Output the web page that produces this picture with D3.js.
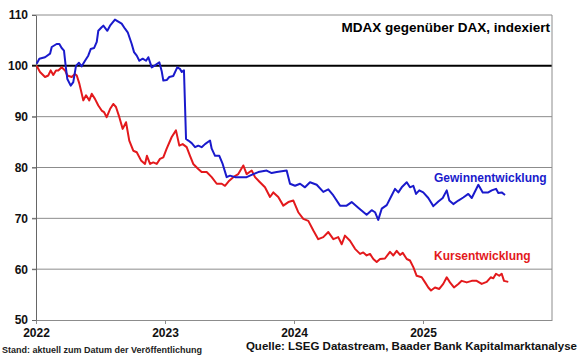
<!DOCTYPE html>
<meta charset="utf-8">
<style>
body { margin: 0; background: white; }
text { font-family: "Liberation Sans", Arial, sans-serif; }
</style>
<body>
<script src="https://d3js.org/d3.v7.min.js"></script>
<script>

const width = 580
const height = 358

// Year ticks on the x axis, value ticks on the y axis
const years = [2022, 2023, 2024, 2025]
const yTicks = [50, 60, 70, 80, 90, 100, 110]

// Gewinnentwicklung (blue): [decimal year, index]
const gewinn = [
  [2022.005, 100.4], [2022.026, 101.4], [2022.070, 101.7], [2022.109, 102.4], [2022.122, 103.7],
  [2022.160, 104.3], [2022.181, 104.3], [2022.199, 103.5], [2022.217, 103.0], [2022.230, 100.0],
  [2022.243, 97.4], [2022.269, 96.1], [2022.289, 96.8], [2022.310, 100.0], [2022.333, 100.6],
  [2022.354, 99.9], [2022.380, 101.0], [2022.405, 102.0], [2022.424, 103.3], [2022.450, 103.5],
  [2022.471, 104.7], [2022.483, 106.9], [2022.509, 107.6], [2022.522, 107.9], [2022.553, 106.9],
  [2022.574, 107.9], [2022.612, 109.1], [2022.638, 108.7], [2022.664, 108.3], [2022.690, 107.3],
  [2022.711, 106.6], [2022.742, 104.3], [2022.760, 102.7], [2022.781, 102.0], [2022.801, 101.0],
  [2022.827, 101.4], [2022.853, 101.0], [2022.871, 101.7], [2022.897, 99.7], [2022.922, 100.1],
  [2022.956, 100.7], [2022.974, 99.0], [2022.987, 97.1], [2023.013, 97.2], [2023.033, 97.8],
  [2023.064, 98.0], [2023.095, 99.7], [2023.116, 99.4], [2023.130, 98.8], [2023.147, 99.1],
  [2023.163, 85.6], [2023.181, 85.3], [2023.207, 84.8], [2023.233, 84.0], [2023.258, 84.3],
  [2023.284, 84.0], [2023.310, 84.6], [2023.349, 85.3], [2023.362, 83.7], [2023.388, 82.3],
  [2023.421, 82.3], [2023.447, 80.7], [2023.478, 78.1], [2023.504, 78.4], [2023.543, 78.1],
  [2023.581, 78.1], [2023.633, 78.1], [2023.684, 78.7], [2023.723, 79.1], [2023.788, 79.4],
  [2023.827, 78.9], [2023.866, 79.1], [2023.943, 79.4], [2023.969, 76.8], [2024.008, 76.4],
  [2024.047, 76.8], [2024.085, 76.1], [2024.124, 77.1], [2024.176, 76.6], [2024.227, 75.2],
  [2024.266, 75.7], [2024.305, 74.5], [2024.357, 72.5], [2024.408, 72.5], [2024.447, 73.2],
  [2024.498, 72.1], [2024.563, 70.7], [2024.602, 71.6], [2024.628, 71.2], [2024.653, 69.7],
  [2024.680, 71.9], [2024.719, 72.6], [2024.757, 74.5], [2024.783, 75.8], [2024.809, 75.1],
  [2024.835, 76.1], [2024.874, 77.1], [2024.899, 76.1], [2024.925, 76.4], [2024.946, 74.8],
  [2024.971, 75.5], [2025.002, 75.1], [2025.041, 74.0], [2025.080, 72.4], [2025.119, 73.3],
  [2025.153, 74.0], [2025.184, 75.5], [2025.204, 73.5], [2025.235, 72.8], [2025.274, 73.5],
  [2025.312, 74.1], [2025.351, 74.8], [2025.378, 74.0], [2025.429, 76.6], [2025.463, 75.1],
  [2025.506, 75.1], [2025.533, 75.5], [2025.566, 75.8], [2025.584, 75.0], [2025.610, 75.1],
  [2025.636, 74.6]
]

// Kursentwicklung (red): [decimal year, index]
const kurs = [
  [2022.005, 100.0], [2022.031, 98.8], [2022.070, 97.8], [2022.095, 98.1], [2022.114, 99.1],
  [2022.134, 98.2], [2022.155, 99.1], [2022.173, 99.1], [2022.199, 99.7], [2022.225, 99.1],
  [2022.243, 98.1], [2022.277, 97.8], [2022.302, 98.4], [2022.316, 98.1], [2022.336, 96.5],
  [2022.367, 93.2], [2022.388, 94.2], [2022.413, 93.2], [2022.432, 94.5], [2022.457, 93.5],
  [2022.483, 92.2], [2022.509, 91.2], [2022.527, 90.9], [2022.548, 89.9], [2022.574, 91.5],
  [2022.599, 92.5], [2022.620, 91.9], [2022.646, 89.9], [2022.672, 87.6], [2022.698, 88.9],
  [2022.723, 85.3], [2022.754, 83.3], [2022.781, 83.0], [2022.814, 81.4], [2022.845, 80.7],
  [2022.860, 82.3], [2022.884, 80.7], [2022.909, 81.0], [2022.936, 80.7], [2022.961, 81.7],
  [2022.987, 82.0], [2023.013, 83.7], [2023.052, 86.0], [2023.085, 87.3], [2023.111, 84.3],
  [2023.137, 84.6], [2023.168, 84.0], [2023.194, 82.3], [2023.219, 80.7], [2023.258, 79.7],
  [2023.284, 79.1], [2023.323, 79.1], [2023.362, 78.1], [2023.401, 76.8], [2023.440, 76.8],
  [2023.465, 76.4], [2023.498, 77.4], [2023.529, 78.1], [2023.568, 78.7], [2023.607, 80.4],
  [2023.633, 78.7], [2023.672, 79.4], [2023.698, 78.1], [2023.736, 77.1], [2023.775, 76.1],
  [2023.814, 74.2], [2023.840, 75.1], [2023.878, 74.2], [2023.917, 72.5], [2023.956, 73.2],
  [2023.995, 73.5], [2024.033, 71.2], [2024.072, 69.9], [2024.111, 69.5], [2024.150, 67.6],
  [2024.188, 65.9], [2024.227, 66.3], [2024.266, 67.3], [2024.305, 65.9], [2024.343, 66.3],
  [2024.370, 64.9], [2024.395, 66.6], [2024.434, 65.6], [2024.473, 64.0], [2024.512, 63.0],
  [2024.537, 63.3], [2024.563, 62.7], [2024.589, 63.0], [2024.615, 62.0], [2024.641, 61.4],
  [2024.667, 62.0], [2024.705, 62.1], [2024.744, 63.4], [2024.770, 62.7], [2024.796, 63.6],
  [2024.822, 62.8], [2024.843, 63.2], [2024.874, 62.0], [2024.899, 61.7], [2024.925, 60.4],
  [2024.951, 58.7], [2024.990, 58.4], [2025.016, 57.4], [2025.041, 56.4], [2025.062, 55.8],
  [2025.093, 56.4], [2025.126, 56.1], [2025.157, 57.1], [2025.184, 58.4], [2025.209, 57.4],
  [2025.240, 56.4], [2025.274, 57.1], [2025.300, 57.7], [2025.339, 57.4], [2025.378, 57.7],
  [2025.416, 57.7], [2025.455, 57.1], [2025.494, 57.5], [2025.525, 58.4], [2025.545, 58.2],
  [2025.566, 59.1], [2025.591, 58.7], [2025.610, 59.1], [2025.628, 57.7], [2025.661, 57.5]
]

const svg = d3.select('body')
  .append('svg')
  .attr('width', width)
  .attr('height', height)

const x = d3.scaleLinear()
  .domain([2022, 2026])
  .range([36, 552])

const y = d3.scaleLinear()
  .domain([50, 110])
  .range([320, 15])

// horizontal grid lines (100 is the heavy black reference line)
svg.append('g')
  .selectAll('line')
  .data(yTicks.filter(d => d > 50))
  .join('line')
  .attr('x1', x(2022) - 4)
  .attr('x2', x(2026))
  .attr('y1', d => y(d))
  .attr('y2', d => y(d))
  .attr('stroke', d => d === 100 ? '#000' : '#8c8c8c')
  .attr('stroke-width', d => d === 100 ? 2 : 1)

// right border
svg.append('line')
  .attr('x1', x(2026)).attr('x2', x(2026))
  .attr('y1', y(110)).attr('y2', y(50))
  .attr('stroke', '#8c8c8c')

// x axis
const xAxis = svg.append('g')
  .attr('transform', `translate(0,${y(50)})`)
  .call(d3.axisBottom(x).tickValues(years).tickFormat(d3.format('d')).tickSize(4).tickSizeOuter(0))
xAxis.select('.domain').attr('stroke', '#8c8c8c')
xAxis.selectAll('.tick line').attr('stroke', '#8c8c8c')
xAxis.selectAll('text')
  .attr('dy', 0).attr('y', 17)
  .attr('font-size', 12).attr('font-weight', 'bold')
  .attr('font-family', '"Liberation Sans", Arial, sans-serif')
  .attr('fill', '#111')

// y axis
const yAxis = svg.append('g')
  .attr('transform', `translate(${x(2022)},0)`)
  .call(d3.axisLeft(y).tickValues(yTicks).tickSize(4).tickSizeOuter(0))
yAxis.select('.domain').attr('stroke', '#666')
yAxis.selectAll('.tick line').attr('stroke', '#666')
yAxis.selectAll('text')
  .attr('x', -8)
  .attr('font-size', 12).attr('font-weight', 'bold')
  .attr('font-family', '"Liberation Sans", Arial, sans-serif')
  .attr('fill', '#111')

// the two series
const line = d3.line()
  .x(d => x(d[0]))
  .y(d => y(d[1]))

svg.append('path')
  .datum(kurs)
  .attr('d', line)
  .attr('fill', 'none')
  .attr('stroke', '#e3191c')
  .attr('stroke-width', 2)
  .attr('stroke-linejoin', 'round')

svg.append('path')
  .datum(gewinn)
  .attr('d', line)
  .attr('fill', 'none')
  .attr('stroke', '#1a1acc')
  .attr('stroke-width', 2)
  .attr('stroke-linejoin', 'round')

// title and series labels
svg.append('text')
  .attr('x', 550).attr('y', 32)
  .attr('text-anchor', 'end')
  .attr('font-size', 13.5).attr('font-weight', 'bold')
  .text('MDAX gegenüber DAX, indexiert')

svg.append('text')
  .attr('x', 434).attr('y', 182)
  .attr('font-size', 12).attr('font-weight', 'bold')
  .attr('fill', '#1a1acc')
  .text('Gewinnentwicklung')

svg.append('text')
  .attr('x', 434).attr('y', 260)
  .attr('font-size', 12).attr('font-weight', 'bold')
  .attr('fill', '#e3191c')
  .text('Kursentwicklung')

// footer
svg.append('text')
  .attr('x', 2).attr('y', 353)
  .attr('font-size', 9).attr('font-weight', 'bold')
  .attr('fill', '#222')
  .text('Stand: aktuell zum Datum der Veröffentlichung')

svg.append('text')
  .attr('x', 577).attr('y', 350)
  .attr('text-anchor', 'end')
  .attr('font-size', 11.5).attr('font-weight', 'bold')
  .attr('fill', '#111')
  .text('Quelle: LSEG Datastream, Baader Bank Kapitalmarktanalyse')

</script>
</body>
</html>
